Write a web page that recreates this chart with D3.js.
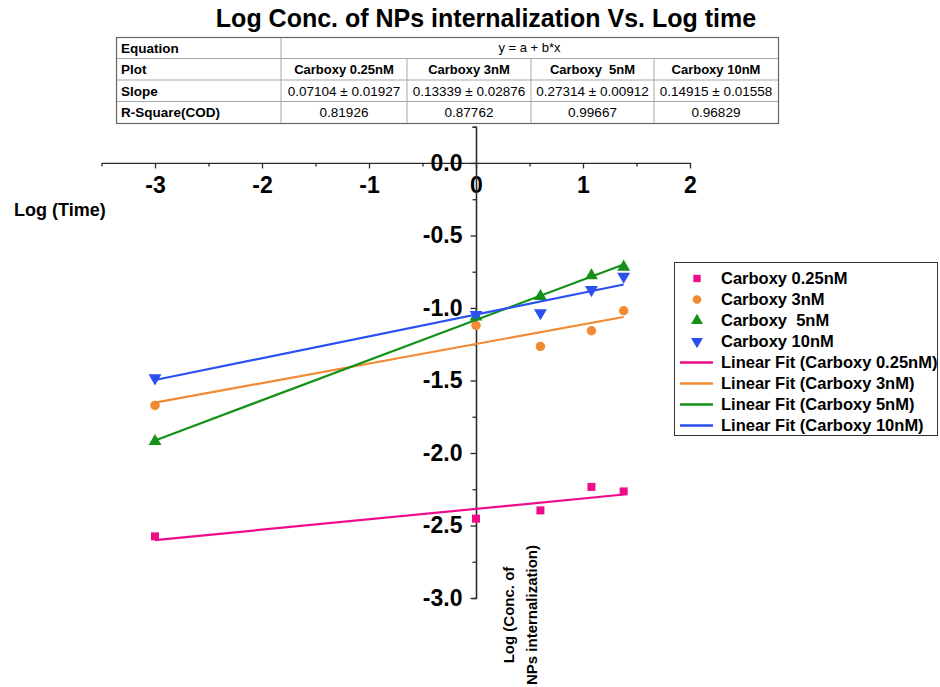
<!DOCTYPE html>
<html>
<head>
<meta charset="utf-8">
<script src="https://cdn.jsdelivr.net/npm/d3@7"></script>
<style>
  body { margin: 0; background: #fff; }
  svg { display: block; font-family: "Liberation Sans", Arial, sans-serif; }
</style>
</head>
<body>
<svg id="chart" width="940" height="687"></svg>
<script>
// ---- data ----
const logTime = [-3, 0, 0.602, 1.079, 1.380];
const seriesNames = ["Carboxy 0.25nM", "Carboxy 3nM", "Carboxy  5nM", "Carboxy 10nM"];
const conc025 = [-2.575, -2.453, -2.396, -2.234, -2.265];
const conc3   = [-1.672, -1.120, -1.265, -1.157, -1.019];
const conc5   = [-1.920, -1.060, -0.920, -0.777, -0.717];
const conc10  = [-1.483, -1.046, -1.034, -0.874, -0.782];
const seriesValues = [conc025, conc3, conc5, conc10];
const seriesColors = ["#EE0C8A", "#F28A33", "#159018", "#2B50F2"];
const seriesSymbols = ["square", "circle", "triangle", "triangleDown"];

const xTicks = [-3, -2, -1, 0, 1, 2];
const xMinorTicks = [-3.5, -2.5, -1.5, -0.5, 0.5, 1.5];
const yTicks = [0, -0.5, -1, -1.5, -2, -2.5, -3];
const yMinorTicks = [0.25, -0.25, -0.75, -1.25, -1.75, -2.25, -2.75];

const tableRowLabels = ["Equation", "Plot", "Slope", "R-Square(COD)"];
const equationText = "y = a + b*x";
const plotNames = ["Carboxy 0.25nM", "Carboxy 3nM", "Carboxy  5nM", "Carboxy 10nM"];
const slopeText = ["0.07104 \u00b1 0.01927", "0.13339 \u00b1 0.02876", "0.27314 \u00b1 0.00912", "0.14915 \u00b1 0.01558"];
const r2Text = ["0.81926", "0.87762", "0.99667", "0.96829"];

const titleText = "Log Conc. of NPs internalization Vs. Log time";
const xLabel = "Log (Time)";
const yLabelLines = ["Log (Conc. of", "NPs internalization)"];

// ---- setup ----
const svg = d3.select("#chart");
const axisColor = "#2a2a2a";

const x = d3.scaleLinear().domain([-3.5, 2]).range([101.5, 690]);
const y = d3.scaleLinear().domain([-3, 0.25]).range([598, 126.7]);

// title
svg.append("text")
  .attr("x", 486).attr("y", 27)
  .attr("text-anchor", "middle")
  .attr("font-size", 25).attr("font-weight", "bold")
  .text(titleText);

// ---- results table ----
const colX = [116, 281, 407, 531, 654, 778];
const rowY = [37, 58.5, 80, 101.5, 123];
const tbl = svg.append("g");
tbl.append("rect")
  .attr("x", colX[0]).attr("y", rowY[0])
  .attr("width", colX[5] - colX[0]).attr("height", rowY[4] - rowY[0])
  .attr("fill", "#fff").attr("stroke", "none");
rowY.slice(1, 4).forEach(ry => {
  tbl.append("line").attr("x1", colX[0]).attr("x2", colX[5])
    .attr("y1", ry).attr("y2", ry).attr("stroke", "#a8a8a8");
});
tbl.append("line").attr("x1", colX[1]).attr("x2", colX[1])
  .attr("y1", rowY[0]).attr("y2", rowY[4]).attr("stroke", "#a8a8a8");
colX.slice(2, 5).forEach(cx => {
  tbl.append("line").attr("x1", cx).attr("x2", cx)
    .attr("y1", rowY[1]).attr("y2", rowY[4]).attr("stroke", "#a8a8a8");
});
tbl.append("rect")
  .attr("x", colX[0] + 0.5).attr("y", rowY[0] + 0.5)
  .attr("width", colX[5] - colX[0]).attr("height", rowY[4] - rowY[0])
  .attr("fill", "none").attr("stroke", "#666").attr("stroke-width", 1.2);

const rowMid = i => (rowY[i] + rowY[i + 1]) / 2;
tableRowLabels.forEach((lab, i) => {
  tbl.append("text").attr("x", colX[0] + 5).attr("y", rowMid(i)).attr("dy", "0.36em")
    .attr("font-size", 13.5).attr("font-weight", "bold").text(lab);
});
tbl.append("text").attr("x", (colX[1] + colX[5]) / 2).attr("y", rowMid(0)).attr("dy", "0.36em")
  .attr("text-anchor", "middle").attr("font-size", 13).text(equationText);
plotNames.forEach((p, j) => {
  const cx = (colX[j + 1] + colX[j + 2]) / 2;
  tbl.append("text").attr("x", cx).attr("y", rowMid(1)).attr("dy", "0.36em")
    .attr("text-anchor", "middle").attr("font-size", 13).attr("font-weight", "bold")
    .style("white-space", "pre").text(p);
  tbl.append("text").attr("x", cx).attr("y", rowMid(2)).attr("dy", "0.36em")
    .attr("text-anchor", "middle").attr("font-size", 13.5).text(slopeText[j]);
  tbl.append("text").attr("x", cx).attr("y", rowMid(3)).attr("dy", "0.36em")
    .attr("text-anchor", "middle").attr("font-size", 13.5).text(r2Text[j]);
});

// ---- axes (crossing at the origin) ----
const x0 = x(0), y0 = y(0);

svg.append("g").attr("transform", `translate(0,${y0})`)
  .call(d3.axisBottom(x).tickValues(xMinorTicks).tickSize(3.5).tickFormat(""))
  .call(g => g.selectAll(".domain").remove());
const xMajor = svg.append("g").attr("transform", `translate(0,${y0})`)
  .call(d3.axisBottom(x).tickValues(xTicks).tickSize(5.5).tickPadding(8).tickSizeOuter(0));

svg.append("g").attr("transform", `translate(${x0},0)`)
  .call(d3.axisLeft(y).tickValues(yMinorTicks).tickSize(3.5).tickFormat(""));
const yMajor = svg.append("g").attr("transform", `translate(${x0},0)`)
  .call(d3.axisLeft(y).tickValues(yTicks).tickSize(5.5).tickPadding(8).tickSizeOuter(0));

svg.selectAll(".tick line, .domain").attr("stroke", axisColor).attr("stroke-width", 1.3);
xMajor.selectAll(".tick text").attr("font-size", 23).attr("font-weight", "bold")
  .attr("font-family", "Liberation Sans, Arial, sans-serif").attr("fill", "#000")
  .text(d => String(d));
yMajor.selectAll(".tick text").attr("font-size", 23).attr("font-weight", "bold")
  .attr("font-family", "Liberation Sans, Arial, sans-serif").attr("fill", "#000")
  .text(d => d === 0 ? "0.0" : d.toFixed(1));

// axis titles
svg.append("text").attr("x", 14).attr("y", 216)
  .attr("font-size", 18).attr("font-weight", "bold").text(xLabel);
yLabelLines.forEach((line, i) => {
  svg.append("text")
    .attr("transform", `translate(${514 + i * 23},615) rotate(-90)`)
    .attr("text-anchor", "middle")
    .attr("font-size", 15).attr("font-weight", "bold").text(line);
});

// ---- markers ----
function symbolPath(kind, scale = 1) {
  if (kind === "square") return d3.symbol(d3.symbolSquare, 64 * scale)();
  if (kind === "circle") return d3.symbol(d3.symbolCircle, 70 * scale)();
  return d3.symbol(d3.symbolTriangle, 72 * scale)();
}
const plot = svg.append("g");
seriesValues.forEach((vals, s) => {
  plot.append("g").selectAll("path")
    .data(vals.map((v, i) => [logTime[i], v]))
    .join("path")
    .attr("d", symbolPath(seriesSymbols[s]))
    .attr("transform", d => `translate(${x(d[0])},${y(d[1])})` + (seriesSymbols[s] === "triangleDown" ? " rotate(180)" : ""))
    .attr("fill", seriesColors[s]);
});

// ---- least-squares fit lines ----
function linearFit(xs, ys) {
  const mx = d3.mean(xs), my = d3.mean(ys);
  let sxy = 0, sxx = 0;
  for (let i = 0; i < xs.length; i++) { sxy += (xs[i] - mx) * (ys[i] - my); sxx += (xs[i] - mx) ** 2; }
  const b = sxy / sxx;
  return { a: my - b * mx, b };
}
const xExtent = d3.extent(logTime);
seriesValues.forEach((vals, s) => {
  const f = linearFit(logTime, vals);
  plot.append("line")
    .attr("x1", x(xExtent[0])).attr("y1", y(f.a + f.b * xExtent[0]))
    .attr("x2", x(xExtent[1])).attr("y2", y(f.a + f.b * xExtent[1]))
    .attr("stroke", seriesColors[s]).attr("stroke-width", 2.2);
});

// ---- legend ----
const leg = svg.append("g");
leg.append("rect").attr("x", 674.5).attr("y", 262.5).attr("width", 263).attr("height", 173)
  .attr("fill", "#fff").attr("stroke", "#333").attr("stroke-width", 1);
const legRowY = i => 278.5 + i * 21;
seriesNames.forEach((nm, s) => {
  const cy = legRowY(s);
  leg.append("path").attr("d", symbolPath(seriesSymbols[s], 0.85))
    .attr("transform", `translate(697,${cy})` + (seriesSymbols[s] === "triangleDown" ? " rotate(180)" : ""))
    .attr("fill", seriesColors[s]);
  leg.append("text").attr("x", 721).attr("y", cy).attr("dy", "0.36em")
    .attr("font-size", 16.5).attr("font-weight", "bold").style("white-space", "pre").text(nm);
});
seriesNames.forEach((nm, s) => {
  const cy = legRowY(s + 4);
  leg.append("line").attr("x1", 680).attr("x2", 713).attr("y1", cy).attr("y2", cy)
    .attr("stroke", seriesColors[s]).attr("stroke-width", 2.4);
  leg.append("text").attr("x", 721).attr("y", cy).attr("dy", "0.36em")
    .attr("font-size", 16.5).attr("font-weight", "bold")
    .text(`Linear Fit (${nm.replace(/\s+/g, " ")})`);
});
</script>
</body>
</html>
